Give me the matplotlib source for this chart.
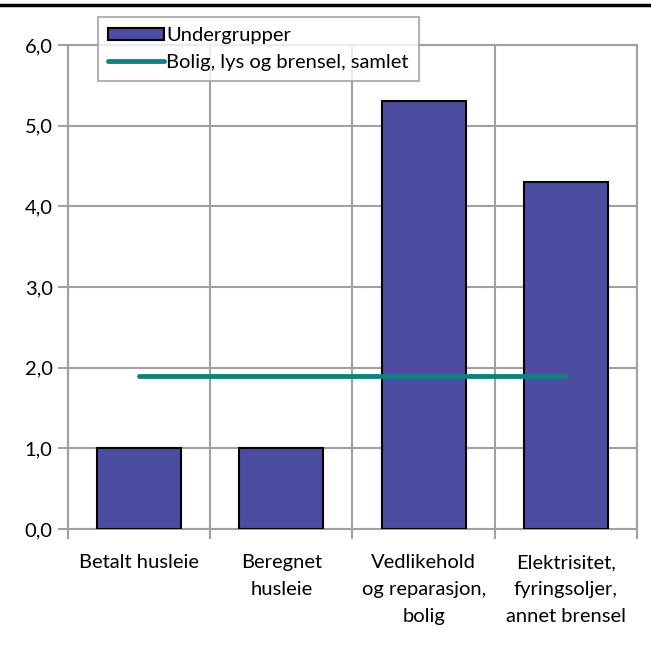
import matplotlib
matplotlib.use('Agg')
import matplotlib.pyplot as plt
from matplotlib.lines import Line2D
import numpy as np

plt.rcParams['font.family'] = ['Lato', 'DejaVu Sans']

categories = ['Betalt husleie', 'Beregnet\nhusleie', 'Vedlikehold\nog reparasjon,\nbolig',
              'Elektrisitet,\nfyringsoljer,\nannet brensel']
undergrupper = [1.0, 1.0, 5.3, 4.3]
samlet = [1.9, 1.9, 1.9, 1.9]
yticks = [0, 1, 2, 3, 4, 5, 6]
ytick_labels = ['0,0', '1,0', '2,0', '3,0', '4,0', '5,0', '6,0']

bar_color = '#4B4EA0'
line_color = '#128080'
grid_color = '#A0A0A0'
fs = 14.5

fig = plt.figure(figsize=(6.51, 6.48), dpi=100)
ax = fig.add_axes([68/651, 1 - 529/648, (637-68)/651, (529-45)/648])

x = np.arange(len(categories))
bars = ax.bar(x, undergrupper, width=0.59, color=bar_color, edgecolor='black', linewidth=1.5,
              label='Undergrupper', zorder=3)
line, = ax.plot(x, samlet, color=line_color, linewidth=3.5, solid_capstyle='round',
                label='Bolig, lys og brensel, samlet', zorder=4)

ax.set_xlim(-0.5, len(categories) - 0.5)
ax.set_ylim(0, 6)
ax.set_yticks(yticks)
ax.set_yticklabels(ytick_labels, fontsize=fs)

ax.set_xticks(np.arange(-0.5, len(categories)), minor=False)
ax.set_xticklabels([])
ax.set_xticks(x, minor=True)
ax.set_xticklabels(categories, minor=True, fontsize=fs, linespacing=1.72, va='top')
ax.tick_params(axis='x', which='minor', length=0, pad=18)
ax.tick_params(axis='x', which='major', length=7, width=1.5, color=grid_color)
ax.tick_params(axis='y', length=7, width=1.5, color=grid_color, pad=4)

ax.grid(True, which='major', color=grid_color, linewidth=1.5, zorder=0)
ax.set_axisbelow(True)
for s in ax.spines.values():
    s.set_color(grid_color)
    s.set_linewidth(1.5)

leg = ax.legend([bars, line], ['Undergrupper', 'Bolig, lys og brensel, samlet'],
                loc='upper left', bbox_to_anchor=(98/651, 1 - 17/648), bbox_transform=fig.transFigure,
                fontsize=fs, frameon=True, fancybox=False, handlelength=2.8, handleheight=0.6,
                handletextpad=0.1, borderpad=0.5, labelspacing=0.5, borderaxespad=0)
leg.get_frame().set_edgecolor(grid_color)
leg.get_frame().set_linewidth(1.5)
leg.set_zorder(10)

fig.add_artist(Line2D([0, 1], [1 - 5/648, 1 - 5/648], color='black', linewidth=2.5,
                      transform=fig.transFigure))

fig.savefig('out.png', dpi=100)
